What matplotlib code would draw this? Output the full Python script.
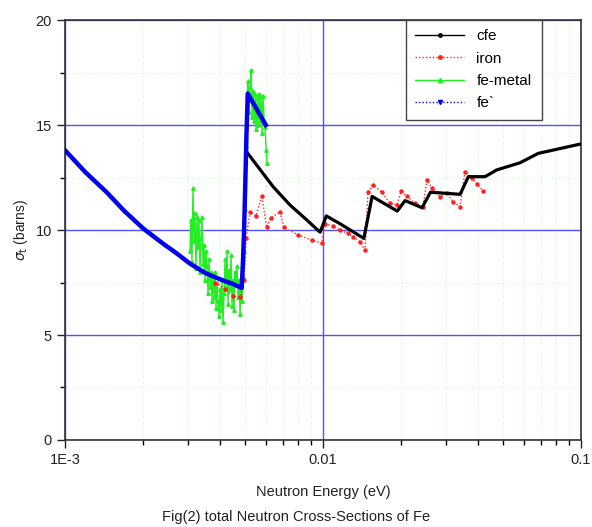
import matplotlib
matplotlib.use("Agg")
import matplotlib.pyplot as plt
from matplotlib.lines import Line2D
from matplotlib.ticker import FixedLocator, FixedFormatter, MultipleLocator, NullFormatter

plt.rcParams['font.family'] = ['Liberation Sans', 'DejaVu Sans']

# ---- data (energy in eV, cross-section in barns) ----
fep_E = [1.0e-3, 1.2e-3, 1.45e-3, 1.7e-3, 2.02e-3, 2.4e-3, 2.7e-3, 3.05e-3, 3.5e-3,
         4.0e-3, 4.5e-3, 4.84e-3, 4.9e-3, 4.95e-3, 5.0e-3, 5.05e-3, 5.11e-3, 6.0e-3]
fep_s = [13.8, 12.75, 11.8, 10.9, 10.05, 9.35, 8.9, 8.4, 7.95,
         7.65, 7.42, 7.24, 8.6, 10.2, 12.3, 14.5, 16.5, 15.0]

cfe_E = [5.11e-3, 6.41e-3, 7.45e-3, 8.65e-3, 9.59e-3, 9.75e-3, 1.03e-2, 1.164e-2, 1.44e-2,
         1.55e-2, 1.94e-2, 2.08e-2, 2.42e-2, 2.61e-2, 3.4e-2, 3.66e-2, 4.25e-2, 4.71e-2,
         5.8e-2, 6.83e-2, 1.0e-1]
cfe_s = [13.65, 12.06, 11.19, 10.48, 9.97, 9.9, 10.67, 10.3, 9.6,
         11.6, 10.9, 11.4, 11.06, 11.8, 11.7, 12.54, 12.54, 12.86,
         13.2, 13.65, 14.1]

iron_E = [3.815e-3, 4.172e-3, 4.481e-3, 4.77e-3, 4.944e-3, 5.033e-3, 5.216e-3, 5.504e-3,
          5.79e-3, 6.05e-3, 6.27e-3, 6.81e-3, 7.06e-3, 8.02e-3, 9.04e-3, 9.89e-3,
          1.018e-2, 1.093e-2, 1.164e-2, 1.25e-2, 1.307e-2, 1.391e-2, 1.455e-2, 1.494e-2,
          1.562e-2, 1.693e-2, 1.818e-2, 1.936e-2, 2.006e-2, 2.117e-2, 2.273e-2, 2.441e-2,
          2.53e-2, 2.646e-2, 2.842e-2, 3.024e-2, 3.191e-2, 3.396e-2, 3.551e-2, 3.78e-2,
          3.953e-2, 4.171e-2]
iron_s = [7.5, 7.2, 6.85, 6.8, 7.6, 9.6, 10.87, 10.67,
          11.63, 10.13, 10.56, 10.87, 10.13, 9.76, 9.52, 9.37,
          10.3, 10.2, 10.0, 9.84, 9.68, 9.44, 9.05, 11.8,
          12.14, 11.8, 11.27, 11.19, 11.84, 11.6, 11.27, 11.11,
          12.38, 11.98, 11.59, 11.75, 11.35, 11.11, 12.78, 12.46,
          12.17, 11.87]

metal_E = [3.051e-3, 3.078e-3, 3.106e-3, 3.134e-3, 3.162e-3, 3.190e-3, 3.219e-3, 3.248e-3,
           3.277e-3, 3.306e-3, 3.336e-3, 3.366e-3, 3.396e-3, 3.427e-3, 3.457e-3, 3.488e-3,
           3.520e-3, 3.551e-3, 3.583e-3, 3.615e-3, 3.648e-3, 3.681e-3, 3.714e-3, 3.747e-3,
           3.781e-3, 3.815e-3, 3.849e-3, 3.884e-3, 3.918e-3, 3.954e-3, 3.989e-3, 4.025e-3,
           4.061e-3, 4.098e-3, 4.135e-3, 4.172e-3, 4.209e-3, 4.247e-3, 4.285e-3, 4.323e-3,
           4.362e-3, 4.401e-3, 4.441e-3, 4.481e-3, 4.521e-3, 4.562e-3, 4.603e-3, 4.644e-3,
           4.686e-3, 4.728e-3, 4.770e-3, 4.813e-3, 4.856e-3, 4.900e-3, 4.944e-3, 4.988e-3,
           5.033e-3, 5.078e-3, 5.124e-3, 5.170e-3, 5.216e-3, 5.263e-3, 5.310e-3, 5.358e-3,
           5.406e-3, 5.455e-3, 5.504e-3, 5.553e-3, 5.603e-3, 5.653e-3, 5.704e-3, 5.755e-3,
           5.807e-3, 5.859e-3, 5.912e-3, 5.965e-3, 6.018e-3, 6.072e-3]
metal_s = [9.0, 10.5, 8.5, 12.0, 9.5, 10.8, 8.2, 10.6,
           9.2, 10.5, 8.0, 9.6, 10.6, 8.4, 9.3, 7.6,
           9.0, 8.3, 7.0, 8.6, 7.3, 8.0, 6.6, 7.8,
           6.8, 8.0, 6.3, 7.5, 6.6, 5.9, 7.2, 6.2,
           7.6, 5.6, 7.0, 8.6, 7.2, 9.0, 6.5, 8.1,
           7.2, 8.8, 6.4, 7.6, 6.2, 8.0, 7.4, 8.3,
           6.8, 7.6, 6.0, 7.3, 6.6, 7.8, 9.0, 11.0,
           14.0, 16.4, 17.1, 15.6, 16.8, 17.6, 15.4, 16.6,
           15.2, 16.5, 14.8, 16.3, 15.0, 16.5, 15.2, 16.4,
           14.6, 16.4, 15.2, 14.9, 13.8, 13.2]

xtick_vals = [1e-3, 1e-2, 1e-1]
xtick_labels = ['1E-3', '0.01', '0.1']

# ---- figure ----
fig = plt.figure(figsize=(5.92, 5.27), dpi=100)
ax = fig.add_axes([0.1098, 0.1651, 0.8716, 0.7969])

ax.set_xscale('log')
ax.set_xlim(1e-3, 1e-1)
ax.set_ylim(0, 20)

# grids
ax.yaxis.set_major_locator(MultipleLocator(5))
ax.yaxis.set_minor_locator(MultipleLocator(2.5))
ax.xaxis.set_major_locator(FixedLocator(xtick_vals))
ax.xaxis.set_major_formatter(FixedFormatter(xtick_labels))
ax.xaxis.set_minor_locator(FixedLocator([m * d for d in (1e-3, 1e-2) for m in range(2, 10)]))
ax.xaxis.set_minor_formatter(NullFormatter())

ax.grid(which='major', color='#5050ff', lw=1.0, zorder=0)
ax.grid(which='minor', color='#b8f0b8', lw=0.6, ls=(0, (1, 3)), zorder=0)
ax.set_axisbelow(True)

ax.tick_params(which='major', direction='out', length=6, width=1, labelsize=10.5,
               colors='#222222')
ax.tick_params(which='minor', direction='out', length=3.5, width=1)
for s in ax.spines.values():
    s.set_linewidth(1.2)
    s.set_color('#333333')

# series
ax.plot(metal_E, metal_s, color='#22ee22', lw=1.0, marker='^', ms=2.5, zorder=3)
ax.plot(iron_E, iron_s, color='#ff2020', lw=1.0, ls=(0, (1, 1.5)), marker='o', ms=2.2, zorder=4)
ax.plot(cfe_E, cfe_s, color='black', lw=2.3, zorder=5)
ax.plot(fep_E, fep_s, color='#0000ee', lw=3.2, zorder=6)

handles = [
    Line2D([], [], color='black', lw=1.0, marker='o', ms=2.5),
    Line2D([], [], color='#ff2020', lw=1.0, ls=(0, (1, 1.5)), marker='o', ms=2.5),
    Line2D([], [], color='#22ee22', lw=1.0, marker='^', ms=3),
    Line2D([], [], color='#0000ee', lw=1.0, ls=(0, (1, 1.5)), marker='v', ms=3),
]
leg = ax.legend(handles, ['cfe', 'iron', 'fe-metal', 'fe`'], loc='upper left',
                bbox_to_anchor=(0.661, 1.0, 0.263, 0.0), mode='expand',
                fontsize=11, frameon=True, fancybox=False, framealpha=1,
                edgecolor='#444444', handlelength=3.2, borderaxespad=0,
                labelspacing=0.55, borderpad=0.6)
leg.get_frame().set_linewidth(1.0)
leg.set_zorder(10)

ax.set_ylabel(r'$\sigma_{\mathrm{t}}$ (barns)', fontsize=10, labelpad=4, color='#222222')
ax.set_xlabel('Neutron Energy (eV)', fontsize=10.5, color='#222222')
ax.xaxis.set_label_coords(0.5, -0.108)
fig.text(0.5, 0.012, 'Fig(2) total Neutron Cross-Sections of Fe', ha='center',
         fontsize=10.5, color='#222222')

fig.savefig('out.png', dpi=100)
